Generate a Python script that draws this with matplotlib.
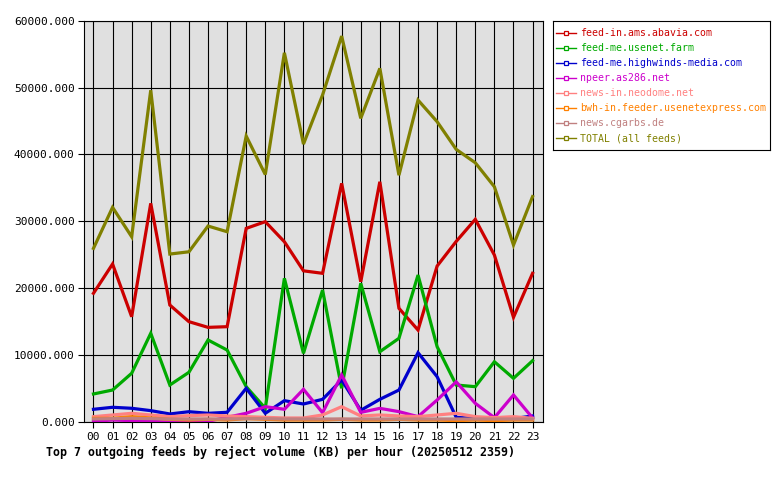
import matplotlib
matplotlib.use("Agg")
import matplotlib.pyplot as plt
import numpy as np

# --------------------------------------------------------------------------- #
# Data (KB per hour)
# --------------------------------------------------------------------------- #
hours = [f"{h:02d}" for h in range(24)]

feeds = [
    "feed-in.ams.abavia.com",
    "feed-me.usenet.farm",
    "feed-me.highwinds-media.com",
    "npeer.as286.net",
    "news-in.neodome.net",
    "bwh-in.feeder.usenetexpress.com",
    "news.cgarbs.de",
    "TOTAL (all feeds)",
]

abavia = [19240, 23620, 15740, 32690, 17490, 15000, 14150, 14250, 28950, 29950,
          26950, 22600, 22230, 35680, 20970, 35920, 17000, 13750, 23320, 27000,
          30300, 24960, 15650, 22230]
usenet_farm = [4190, 4780, 7280, 13260, 5530, 7430, 12260, 10760, 5280, 2050,
               21480, 10270, 19730, 5040, 20730, 10510, 12510, 21970, 11260, 5530,
               5280, 9010, 6530, 9160]
highwinds = [1900, 2200, 2050, 1700, 1200, 1540, 1300, 1450, 5040, 1300,
             3190, 2690, 3390, 6280, 1750, 3390, 4780, 10360, 6770, 700,
             500, 500, 500, 900]
as286 = [100, 300, 200, 100, 0, 100, 100, 700, 1300, 2290,
         1900, 4890, 1390, 7030, 1440, 2040, 1550, 800, 3290, 6000,
         2790, 650, 4040, 600]
neodome = [800, 1050, 1300, 1050, 800, 950, 1050, 900, 800, 700,
           600, 600, 1050, 2290, 900, 1050, 900, 800, 1050, 1300,
           800, 650, 800, 550]
usenetexpress = [550, 550, 800, 600, 400, 300, 400, 300, 500, 400,
                 300, 300, 300, 400, 300, 300, 400, 300, 300, 200,
                 300, 200, 300, 300]
cgarbs = [450, 500, 550, 500, 450, 450, 450, 450, 500, 500,
          450, 450, 450, 450, 450, 450, 450, 450, 450, 450,
          450, 450, 450, 450]
total = [25960, 32090, 27700, 49600, 25110, 25450, 29300, 28450, 42750, 37000,
         55200, 41550, 48900, 57700, 45400, 52870, 36900, 48130, 44900, 40760,
         38760, 35170, 26460, 33700]

series = [abavia, usenet_farm, highwinds, as286, neodome, usenetexpress, cgarbs, total]
colors = ["#cc0000", "#00aa00", "#0000cc", "#cc00cc",
          "#ff8080", "#ff8000", "#c08080", "#808000"]

yticks = [0, 10000, 20000, 30000, 40000, 50000, 60000]

# --------------------------------------------------------------------------- #
# Plot
# --------------------------------------------------------------------------- #
mono = "DejaVu Sans Mono"
W, H = 780, 480
fig = plt.figure(figsize=(W / 100, H / 100), dpi=100)
fig.patch.set_facecolor("white")

ax = fig.add_axes([84.3 / W, 1 - 422 / H, (542.7 - 84.3) / W, (422 - 20.7) / H])
ax.set_facecolor("#e0e0e0")

x = np.arange(len(hours))
for vals, col in zip(series, colors):
    ax.plot(x, vals, color=col, lw=2.3, solid_joinstyle="miter", zorder=3)

ax.set_xlim(-0.48, 23.53)
ax.set_ylim(0, 60000)
ax.set_xticks(x)
ax.set_xticklabels(hours, family=mono, fontsize=8)
ax.set_yticks(yticks)
ax.set_yticklabels([f"{v}.000" for v in yticks], family=mono, fontsize=8)
ax.tick_params(axis="both", length=4, width=0.8, color="black", pad=3)
ax.grid(True, color="black", lw=0.8, zorder=1)
ax.set_axisbelow(True)
for sp in ax.spines.values():
    sp.set_color("black")
    sp.set_linewidth(0.8)

fig.text(46 / W, 1 - 452 / H, "Top 7 outgoing feeds by reject volume (KB) per hour (20250512 2359)",
         family=mono, fontsize=8.37, fontweight="bold", va="center", ha="left")

# legend box, laid out in pixel units
lg = fig.add_axes([552.7 / W, 1 - 150 / H, (770 - 552.7) / W, (150 - 20.7) / H])
lg.set_xlim(0, 770 - 552.7)
lg.set_ylim(150 - 20.7, 0)
lg.set_xticks([])
lg.set_yticks([])
for sp in lg.spines.values():
    sp.set_linewidth(0.8)
for i, (name, col) in enumerate(zip(feeds, colors)):
    yy = 12.6 + 15 * i
    lg.plot([3.3, 23.3], [yy, yy], color=col, lw=1.0)
    lg.plot([13], [yy], marker="s", ms=3, mfc="white", mec=col, mew=0.9)
    lg.text(27.3, yy, name, color=col, family=mono, fontsize=7.1, va="center", ha="left")

fig.savefig("out.png", dpi=100)
